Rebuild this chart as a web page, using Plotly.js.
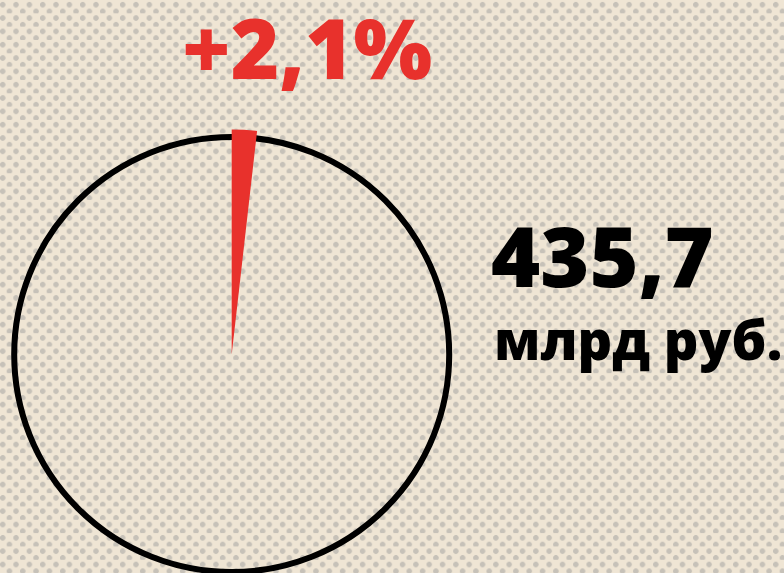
<!DOCTYPE html>
<html>
<head>
<meta charset="utf-8">
<script src="https://cdn.plot.ly/plotly-3.0.1.min.js"></script>
<style>
  html, body { margin: 0; padding: 0; width: 784px; height: 573px; overflow: hidden; }
  body {
    background-color: #efe5d4;
    background-image:
      radial-gradient(circle at 2.7px 4.7px, #c6c1b8 2.4px, rgba(198,193,184,0) 3.1px),
      radial-gradient(circle at 9.4px 11.4px, #c6c1b8 2.4px, rgba(198,193,184,0) 3.1px);
    background-size: 13.333px 13.333px;
  }
  #chart { width: 784px; height: 620px; }
</style>
</head>
<body>
<div id="chart"></div>
<script>
// Data
const sliceLabels = ['Прирост', 'Остальное'];
const sliceShares = [1.8, 98.2];
const sliceColors = ['#e8312c', 'rgba(0,0,0,0)'];
const growthText = '+2,1%';
const totalText = '435,7';
const unitText = 'млрд руб.';

const W = 784, H = 620;
const cx = 231.7, cy = 354.5;   // pie centre (px from top-left)
const wedgeR = 225;             // red wedge outer radius
const ringR = 217.5;            // black ring radius (stroke centre)

const px = x => x / W;
const py = y => (H - y) / H;

const data = [{
  type: 'pie',
  labels: sliceLabels,
  values: sliceShares,
  sort: false,
  direction: 'clockwise',
  rotation: 0,
  textinfo: 'none',
  hoverinfo: 'none',
  showlegend: false,
  marker: { colors: sliceColors, line: { width: 0 } },
  domain: { x: [px(cx - wedgeR), px(cx + wedgeR)], y: [py(cy + wedgeR), py(cy - wedgeR)] }
}];

const fontFam = '"Open Sans", "Noto Sans", sans-serif';

const layout = {
  width: W, height: H,
  margin: { l: 0, r: 0, t: 0, b: 0 },
  paper_bgcolor: 'rgba(0,0,0,0)',
  plot_bgcolor: 'rgba(0,0,0,0)',
  showlegend: false,
  shapes: [{
    type: 'circle', xref: 'paper', yref: 'paper', layer: 'below',
    x0: px(cx - ringR), x1: px(cx + ringR), y0: py(cy + ringR), y1: py(cy - ringR),
    line: { color: '#000000', width: 6 }, fillcolor: 'rgba(0,0,0,0)'
  }],
  annotations: [
    { text: growthText, xref: 'paper', yref: 'paper', x: px(307), y: py(46), xanchor: 'center', yanchor: 'middle', showarrow: false,
      font: { family: fontFam, size: 83, weight: 800, color: '#e8312c' } },
    { text: totalText, xref: 'paper', yref: 'paper', x: px(602), y: py(254), xanchor: 'center', yanchor: 'middle', showarrow: false,
      font: { family: fontFam, size: 84, weight: 800, color: '#000000' } },
    { text: unitText, xref: 'paper', yref: 'paper', x: px(638), y: py(339), xanchor: 'center', yanchor: 'middle', showarrow: false,
      font: { family: fontFam, size: 54, weight: 800, color: '#000000' } }
  ]
};

Plotly.newPlot('chart', data, layout, { displayModeBar: false, staticPlot: true });
</script>
</body>
</html>
